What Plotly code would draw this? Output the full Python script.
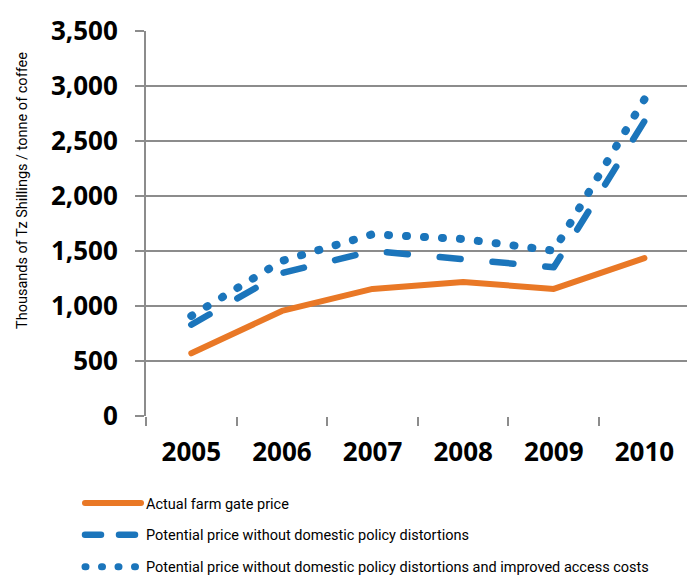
import plotly.graph_objects as go

years = ["2005", "2006", "2007", "2008", "2009", "2010"]
actual = [570, 955, 1155, 1218, 1155, 1436]
no_distortion = [830, 1300, 1500, 1430, 1352, 2680]
no_dist_access = [909, 1410, 1652, 1609, 1503, 2879]

names = [
    "Actual farm gate price",
    "Potential price without domestic policy distortions",
    "Potential price without domestic policy distortions and improved access costs",
]
y_ticks = [0, 500, 1000, 1500, 2000, 2500, 3000, 3500]

ORANGE = "#E97826"
BLUE = "#1B75BB"
LEG_FONT = "Roboto, sans-serif"

fig = go.Figure()
fig.add_trace(go.Scatter(x=years, y=actual, mode="lines", name=names[0],
                         line=dict(color=ORANGE, width=6), legendgroup="a"))
fig.add_trace(go.Scatter(x=years, y=no_distortion, mode="lines", name=names[1],
                         line=dict(color=BLUE, width=6.5, dash="21px,32px"), legendgroup="b",
                         showlegend=False))
fig.add_trace(go.Scatter(x=years, y=no_dist_access, mode="lines", name=names[2],
                         line=dict(color=BLUE, width=8, dash="1px,17px"), legendgroup="c",
                         showlegend=False))
# legend-only entries: the legend uses a shorter dash pattern than the plot lines
fig.add_trace(go.Scatter(x=[years[0]], y=[None], mode="lines", name=names[1],
                         line=dict(color=BLUE, width=6.5, dash="16px,18px"), legendgroup="b",
                         hoverinfo="skip"))
fig.add_trace(go.Scatter(x=[years[0]], y=[None], mode="lines", name=names[2],
                         line=dict(color=BLUE, width=7, dash="1px,15.5px"), legendgroup="c",
                         hoverinfo="skip"))

fig.update_layout(
    width=687, height=579,
    margin=dict(l=146, r=0, t=31, b=163, autoexpand=False),
    paper_bgcolor="white", plot_bgcolor="white",
    showlegend=True,
    legend=dict(
        x=(80 - 146) / 541, y=(416 - 487) / 385, xanchor="left", yanchor="top",
        font=dict(family=LEG_FONT, size=14.5, color="black"),
        traceorder="grouped", tracegroupgap=10, itemwidth=56,
        bgcolor="rgba(0,0,0,0)",
    ),
    xaxis=dict(
        type="category", range=[-0.5, 5.47], automargin=False,
        showgrid=False, zeroline=False, showline=False,
        ticks="outside", tickson="boundaries", ticklen=9, tickwidth=2, tickcolor="#8c8c8c",
        tickfont=dict(family="Open Sans", size=26, color="black", weight="bold"),
        ticklabelstandoff=18,
    ),
    yaxis=dict(
        range=[0, 3500], tickvals=y_ticks, tickformat=",d", automargin=False,
        showgrid=True, gridcolor="#8c8c8c", gridwidth=2,
        zeroline=False, showline=True, linecolor="#8c8c8c", linewidth=2,
        ticks="outside", ticklen=9, tickwidth=2, tickcolor="#8c8c8c",
        tickfont=dict(family="Open Sans", size=26, color="black", weight="bold"),
        ticklabelstandoff=12,
    ),
    annotations=[dict(
        text="Thousands of Tz Shillings / tonne of coffee",
        xref="paper", yref="paper", x=(22 - 146) / 541, y=(416 - 191) / 385,
        xanchor="center", yanchor="middle", textangle=-90, showarrow=False,
        font=dict(family=LEG_FONT, size=14.5, color="black"),
    )],
)

post = """
document.body.style.margin='0';
document.querySelectorAll('path.js-line').forEach(function(p){
  p.style.strokeLinecap='round'; p.style.strokeLinejoin='round';
});
"""
fig.write_html("out.html", post_script=post, config={"displayModeBar": False})
